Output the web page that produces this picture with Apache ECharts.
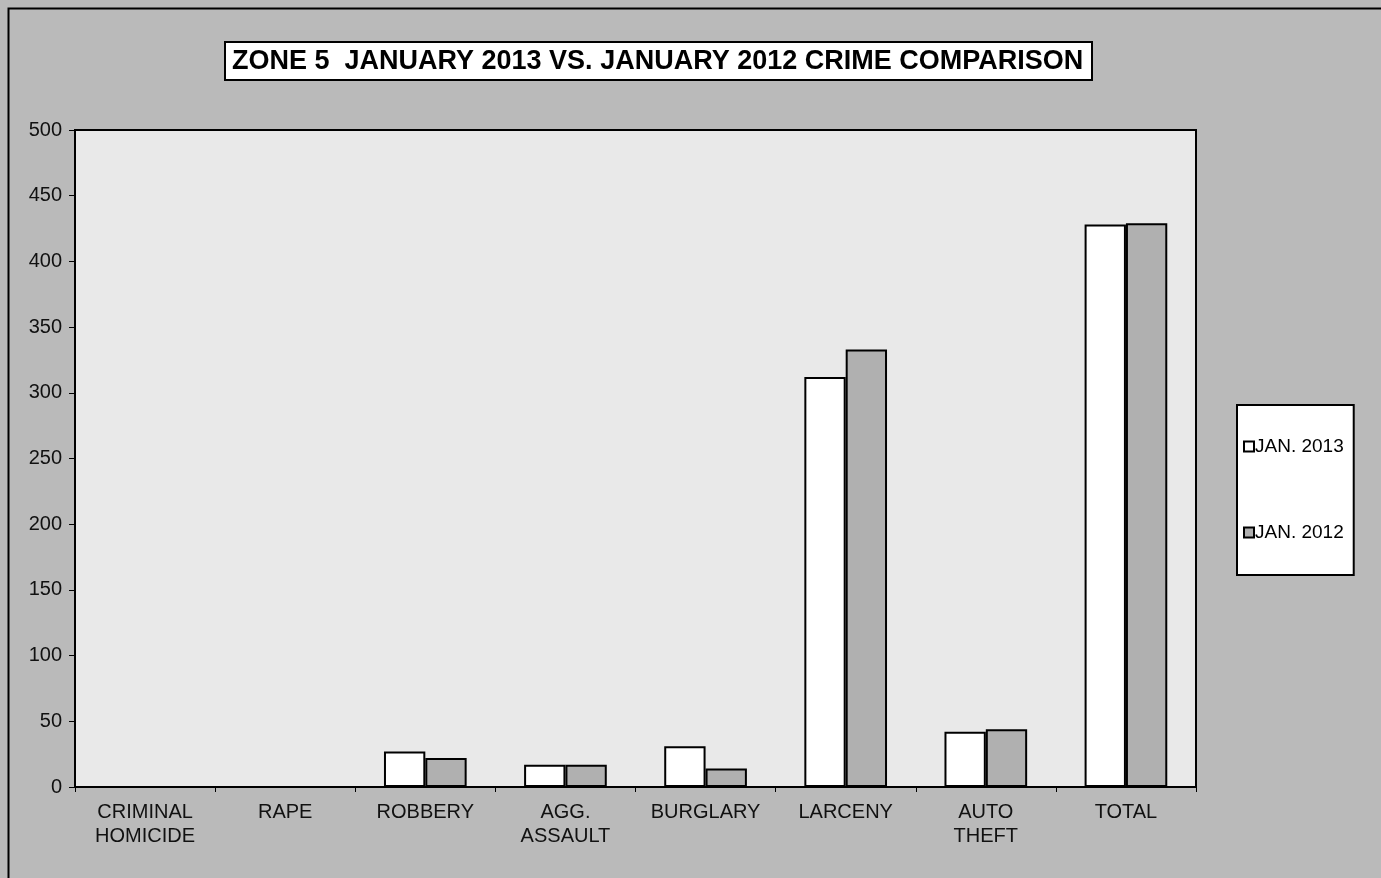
<!DOCTYPE html>
<html>
<head>
<meta charset="utf-8">
<script src="https://cdn.jsdelivr.net/npm/echarts@6/dist/echarts.min.js"></script>
<style>
  html, body { margin: 0; padding: 0; background: #bababa; }
  #main { width: 1381px; height: 878px; }
</style>
</head>
<body>
<div id="main"></div>
<script>
// categories and values
const categories = ['CRIMINAL\nHOMICIDE', 'RAPE', 'ROBBERY', 'AGG.\nASSAULT', 'BURGLARY', 'LARCENY', 'AUTO\nTHEFT', 'TOTAL']
const jan2013 = [0, 0, 27, 17, 31, 312, 42, 428]
const jan2012 = [0, 0, 22, 17, 14, 333, 44, 429]
const seriesNames = ['JAN. 2013', 'JAN. 2012']

const chart = echarts.init(document.getElementById('main'))
const font = 'Liberation Sans, Arial, sans-serif'

const option = {
  backgroundColor: '#bababa',
  animation: false,
  textStyle: { fontFamily: font },
  title: {
    text: 'ZONE 5  JANUARY 2013 VS. JANUARY 2012 CRIME COMPARISON',
    left: 225,
    top: 42,
    backgroundColor: '#ffffff',
    borderColor: '#000',
    borderWidth: 2,
    padding: [6, 9, 5, 7],
    textStyle: { fontFamily: font, fontSize: 27, fontWeight: 'bold', color: '#000' }
  },
  legend: {
    orient: 'vertical',
    left: 1237,
    top: 405,
    width: 117,
    backgroundColor: '#ffffff',
    borderColor: '#000',
    borderWidth: 2,
    padding: [32, 10, 33, 6],
    itemGap: 67,
    itemWidth: 10,
    itemHeight: 10,
    icon: 'rect',
    textStyle: { fontFamily: font, fontSize: 19, color: '#000', padding: [0, 0, 0, -4] },
    data: seriesNames
  },
  grid: {
    left: 75,
    right: 185,
    top: 130,
    bottom: 91,
    show: true,
    backgroundColor: '#e9e9e9',
    borderColor: '#000',
    borderWidth: 2
  },
  xAxis: {
    type: 'category',
    data: categories,
    axisLine: { lineStyle: { color: '#000', width: 2 } },
    axisTick: { show: true, length: 5, inside: false, interval: 0, lineStyle: { color: '#000' } },
    axisLabel: { interval: 0, hideOverlap: false, fontFamily: font, fontSize: 20, color: '#111', lineHeight: 24, margin: 13 },
    splitLine: { show: false }
  },
  yAxis: {
    type: 'value',
    min: 0,
    max: 500,
    interval: 50,
    axisLine: { show: true, lineStyle: { color: '#000', width: 2 } },
    axisTick: { show: true, length: 6, lineStyle: { color: '#000' } },
    axisLabel: { fontFamily: font, fontSize: 20, color: '#111', margin: 13 },
    splitLine: { show: false }
  },
  series: [
    {
      name: seriesNames[0],
      type: 'bar',
      data: jan2013,
      barGap: '0%',
      barCategoryGap: '41%',
      itemStyle: { color: '#ffffff', borderColor: '#000', borderWidth: 2 }
    },
    {
      name: seriesNames[1],
      type: 'bar',
      data: jan2012,
      itemStyle: { color: '#b0b0b0', borderColor: '#000', borderWidth: 2 }
    }
  ],
  graphic: [
    {
      type: 'rect',
      left: 6,
      top: 6,
      shape: { width: 1380, height: 880 },
      style: { fill: 'none', stroke: '#000', lineWidth: 2 },
      silent: true
    }
  ]
}
chart.setOption(option)
</script>
</body>
</html>
